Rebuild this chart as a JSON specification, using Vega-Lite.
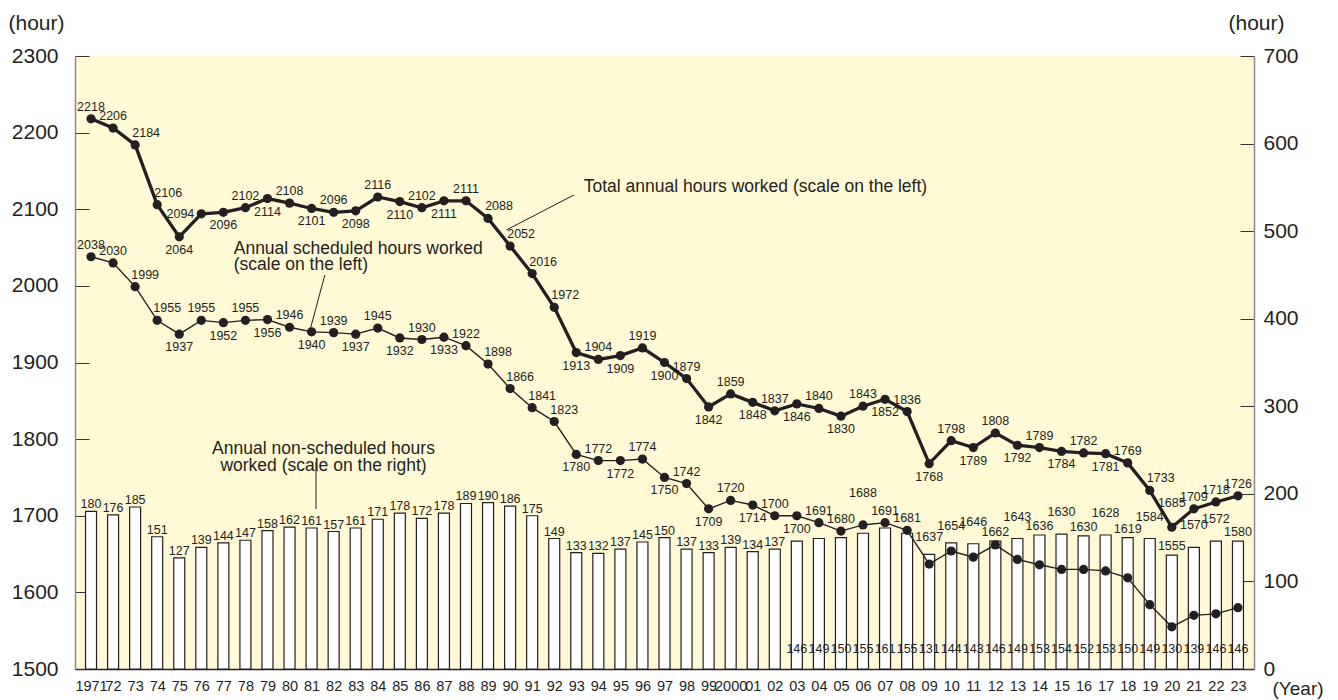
{
  "$schema": "https://vega.github.io/schema/vega-lite/v6.json",
  "width": 1179,
  "height": 613,
  "autosize": "none",
  "padding": {"left": 75, "top": 56, "right": 84, "bottom": 31},
  "background": "white",
  "config": {
    "view": {"fill": "#FFF9D6", "stroke": null},
    "font": "Liberation Sans",
    "text": {"font": "Liberation Sans", "fontSize": 12.5, "color": "#231F20"}
  },
  "datasets": {
    "main": [
      {"year": 1971, "total": 2218, "sched": 2038, "non": 180},
      {"year": 1972, "total": 2206, "sched": 2030, "non": 176},
      {"year": 1973, "total": 2184, "sched": 1999, "non": 185},
      {"year": 1974, "total": 2106, "sched": 1955, "non": 151},
      {"year": 1975, "total": 2064, "sched": 1937, "non": 127},
      {"year": 1976, "total": 2094, "sched": 1955, "non": 139},
      {"year": 1977, "total": 2096, "sched": 1952, "non": 144},
      {"year": 1978, "total": 2102, "sched": 1955, "non": 147},
      {"year": 1979, "total": 2114, "sched": 1956, "non": 158},
      {"year": 1980, "total": 2108, "sched": 1946, "non": 162},
      {"year": 1981, "total": 2101, "sched": 1940, "non": 161},
      {"year": 1982, "total": 2096, "sched": 1939, "non": 157},
      {"year": 1983, "total": 2098, "sched": 1937, "non": 161},
      {"year": 1984, "total": 2116, "sched": 1945, "non": 171},
      {"year": 1985, "total": 2110, "sched": 1932, "non": 178},
      {"year": 1986, "total": 2102, "sched": 1930, "non": 172},
      {"year": 1987, "total": 2111, "sched": 1933, "non": 178},
      {"year": 1988, "total": 2111, "sched": 1922, "non": 189},
      {"year": 1989, "total": 2088, "sched": 1898, "non": 190},
      {"year": 1990, "total": 2052, "sched": 1866, "non": 186},
      {"year": 1991, "total": 2016, "sched": 1841, "non": 175},
      {"year": 1992, "total": 1972, "sched": 1823, "non": 149},
      {"year": 1993, "total": 1913, "sched": 1780, "non": 133},
      {"year": 1994, "total": 1904, "sched": 1772, "non": 132},
      {"year": 1995, "total": 1909, "sched": 1772, "non": 137},
      {"year": 1996, "total": 1919, "sched": 1774, "non": 145},
      {"year": 1997, "total": 1900, "sched": 1750, "non": 150},
      {"year": 1998, "total": 1879, "sched": 1742, "non": 137},
      {"year": 1999, "total": 1842, "sched": 1709, "non": 133},
      {"year": 2000, "total": 1859, "sched": 1720, "non": 139},
      {"year": 2001, "total": 1848, "sched": 1714, "non": 134},
      {"year": 2002, "total": 1837, "sched": 1700, "non": 137},
      {"year": 2003, "total": 1846, "sched": 1700, "non": 146},
      {"year": 2004, "total": 1840, "sched": 1691, "non": 149},
      {"year": 2005, "total": 1830, "sched": 1680, "non": 150},
      {"year": 2006, "total": 1843, "sched": 1688, "non": 155},
      {"year": 2007, "total": 1852, "sched": 1691, "non": 161},
      {"year": 2008, "total": 1836, "sched": 1681, "non": 155},
      {"year": 2009, "total": 1768, "sched": 1637, "non": 131},
      {"year": 2010, "total": 1798, "sched": 1654, "non": 144},
      {"year": 2011, "total": 1789, "sched": 1646, "non": 143},
      {"year": 2012, "total": 1808, "sched": 1662, "non": 146},
      {"year": 2013, "total": 1792, "sched": 1643, "non": 149},
      {"year": 2014, "total": 1789, "sched": 1636, "non": 153},
      {"year": 2015, "total": 1784, "sched": 1630, "non": 154},
      {"year": 2016, "total": 1782, "sched": 1630, "non": 152},
      {"year": 2017, "total": 1781, "sched": 1628, "non": 153},
      {"year": 2018, "total": 1769, "sched": 1619, "non": 150},
      {"year": 2019, "total": 1733, "sched": 1584, "non": 149},
      {"year": 2020, "total": 1685, "sched": 1555, "non": 130},
      {"year": 2021, "total": 1709, "sched": 1570, "non": 139},
      {"year": 2022, "total": 1718, "sched": 1572, "non": 146},
      {"year": 2023, "total": 1726, "sched": 1580, "non": 146}
    ],
    "notes": [
      {"kind": "total", "year": 1993.34, "val": 2129, "text": "Total annual hours worked (scale on the left)"},
      {"kind": "sched", "year": 1977.47, "val": 2048, "text": "Annual scheduled hours worked"},
      {"kind": "sched", "year": 1977.47, "val": 2027, "text": "(scale on the left)"},
      {"kind": "nonsched", "year": 1981.54, "val": 1786.5, "text": "Annual non-scheduled hours"},
      {"kind": "nonsched", "year": 1981.54, "val": 1765, "text": "worked (scale on the right)"}
    ],
    "leaders": [
      {"year": 1992.89, "val": 2118.6, "year2": 1989.83, "val2": 2072.9},
      {"year": 1981.6, "val": 2014.2, "year2": 1980.93, "val2": 1942.4},
      {"year": 1981.2, "val": 1770, "year2": 1981.2, "val2": 1708.8}
    ]
  },
  "encoding": {
    "x": {
      "field": "year",
      "type": "quantitative",
      "scale": {"domain": [1970.5, 2023.5], "nice": false, "zero": false},
      "axis": {
        "values": [1971,1972,1973,1974,1975,1976,1977,1978,1979,1980,1981,1982,1983,1984,1985,1986,1987,1988,1989,1990,1991,1992,1993,1994,1995,1996,1997,1998,1999,2000,2001,2002,2003,2004,2005,2006,2007,2008,2009,2010,2011,2012,2013,2014,2015,2016,2017,2018,2019,2020,2021,2022,2023],
        "labelExpr": "datum.value == 1971 || datum.value == 2000 ? '' + datum.value : substring('' + datum.value, 2, 4)",
        "labelOverlap": false,
        "labelFlush": false,
        "labelFont": "Liberation Sans",
        "labelFontSize": 14.5,
        "labelColor": "#231F20",
        "labelPadding": 10,
        "ticks": false,
        "grid": false,
        "domainColor": "#231F20",
        "domainWidth": 1.5,
        "title": "(Year)",
        "titleFont": "Liberation Sans",
        "titleFontSize": 19,
        "titleFontWeight": "normal",
        "titleColor": "#231F20",
        "titleAlign": "left",
        "titleBaseline": "alphabetic",
        "titleX": 1197,
        "titleY": 25
      }
    }
  },
  "layer": [
    {
      "data": {"name": "main"},
      "mark": {"type": "bar", "width": 11, "fill": "white", "stroke": "#231F20", "strokeWidth": 1.2},
      "encoding": {
        "y": {
          "field": "non", "type": "quantitative",
          "scale": {"domain": [0, 700], "nice": false},
          "axis": {
            "orient": "right",
            "values": [0, 100, 200, 300, 400, 500, 600, 700],
            "format": "d",
            "grid": false,
            "tickSize": -14,
            "tickColor": "#333333",
            "domainColor": "#8a8a8a",
            "domainWidth": 1.5,
            "labelFontSize": 21,
            "labelColor": "#231F20",
            "labelPadding": 23,
            "title": "(hour)",
            "titleAngle": 0,
            "titleFontSize": 21,
            "titleFontWeight": "normal",
            "titleColor": "#231F20",
            "titleAlign": "left",
            "titleBaseline": "alphabetic",
            "titleX": -26,
            "titleY": -27
          }
        }
      }
    },
    {
      "data": {"name": "main"},
      "transform": [{"filter": "datum.year <= 2002"}],
      "mark": {"type": "text", "baseline": "alphabetic", "dy": -3},
      "encoding": {
        "y": {"field": "non", "type": "quantitative", "scale": {"domain": [0, 700], "nice": false}, "axis": null},
        "text": {"field": "non", "type": "quantitative", "format": "d"}
      }
    },
    {
      "data": {"name": "main"},
      "transform": [{"filter": "datum.year >= 2003"}],
      "mark": {"type": "text", "baseline": "alphabetic", "dy": -16},
      "encoding": {
        "y": {"datum": 0, "type": "quantitative", "scale": {"domain": [0, 700], "nice": false}, "axis": null},
        "text": {"field": "non", "type": "quantitative", "format": "d"}
      }
    },
    {
      "data": {"name": "main"},
      "mark": {"type": "line", "color": "#231F20", "strokeWidth": 3.3},
      "encoding": {
        "y": {
          "field": "total", "type": "quantitative",
          "scale": {"domain": [1500, 2300], "nice": false, "zero": false},
          "axis": {
            "orient": "left",
            "values": [1500, 1600, 1700, 1800, 1900, 2000, 2100, 2200, 2300],
            "format": "d",
            "grid": false,
            "tickSize": -14,
            "tickColor": "#333333",
            "domainColor": "#8a8a8a",
            "domainWidth": 1.5,
            "labelFontSize": 21,
            "labelColor": "#231F20",
            "labelPadding": 31,
            "title": "(hour)",
            "titleAngle": 0,
            "titleFontSize": 21,
            "titleFontWeight": "normal",
            "titleColor": "#231F20",
            "titleAlign": "left",
            "titleBaseline": "alphabetic",
            "titleX": -67,
            "titleY": -27
          }
        }
      }
    },
    {
      "data": {"name": "main"},
      "mark": {"type": "point", "filled": true, "size": 85, "color": "#231F20", "opacity": 1},
      "encoding": {
        "y": {"field": "total", "type": "quantitative", "scale": {"domain": [1500, 2300], "nice": false, "zero": false}, "axis": null}
      }
    },
    {
      "data": {"name": "main"},
      "mark": {"type": "line", "color": "#231F20", "strokeWidth": 1.4},
      "encoding": {
        "y": {"field": "sched", "type": "quantitative", "scale": {"domain": [1500, 2300], "nice": false, "zero": false}, "axis": null}
      }
    },
    {
      "data": {"name": "main"},
      "mark": {"type": "point", "filled": true, "size": 85, "color": "#231F20", "opacity": 1},
      "encoding": {
        "y": {"field": "sched", "type": "quantitative", "scale": {"domain": [1500, 2300], "nice": false, "zero": false}, "axis": null}
      }
    },
    {
      "data": {"name": "main"},
      "transform": [{"filter": {"field": "year", "oneOf": [1971,1972,1978,1980,1982,1984,1986,1988,1994,1996,1998,2000,2002,2004,2006,2008,2010,2012,2014,2016,2018,2021,2022,2023]}}],
      "mark": {"type": "text", "baseline": "alphabetic", "dy": -8},
      "encoding": {
        "y": {"field": "total", "type": "quantitative", "scale": {"domain": [1500, 2300], "nice": false, "zero": false}, "axis": null},
        "text": {"field": "total", "type": "quantitative", "format": "d"}
      }
    },
    {
      "data": {"name": "main"},
      "transform": [{"filter": {"field": "year", "oneOf": [2020]}}],
      "mark": {"type": "text", "baseline": "alphabetic", "dy": -20},
      "encoding": {
        "y": {"field": "total", "type": "quantitative", "scale": {"domain": [1500, 2300], "nice": false, "zero": false}, "axis": null},
        "text": {"field": "total", "type": "quantitative", "format": "d"}
      }
    },
    {
      "data": {"name": "main"},
      "transform": [{"filter": {"field": "year", "oneOf": [1973,1974,1989,1990,1991,1992,2019]}}],
      "mark": {"type": "text", "baseline": "alphabetic", "dy": -8, "dx": 11},
      "encoding": {
        "y": {"field": "total", "type": "quantitative", "scale": {"domain": [1500, 2300], "nice": false, "zero": false}, "axis": null},
        "text": {"field": "total", "type": "quantitative", "format": "d"}
      }
    },
    {
      "data": {"name": "main"},
      "transform": [{"filter": {"field": "year", "oneOf": [1976]}}],
      "mark": {"type": "text", "baseline": "middle", "align": "right", "dx": -7},
      "encoding": {
        "y": {"field": "total", "type": "quantitative", "scale": {"domain": [1500, 2300], "nice": false, "zero": false}, "axis": null},
        "text": {"field": "total", "type": "quantitative", "format": "d"}
      }
    },
    {
      "data": {"name": "main"},
      "transform": [{"filter": {"field": "year", "oneOf": [1975,1977,1979,1981,1983,1985,1987,1993,1995,1997,1999,2001,2003,2005,2007,2009,2011,2013,2015,2017]}}],
      "mark": {"type": "text", "baseline": "alphabetic", "dy": 17},
      "encoding": {
        "y": {"field": "total", "type": "quantitative", "scale": {"domain": [1500, 2300], "nice": false, "zero": false}, "axis": null},
        "text": {"field": "total", "type": "quantitative", "format": "d"}
      }
    },
    {
      "data": {"name": "main"},
      "transform": [{"filter": {"field": "year", "oneOf": [1971,1972,1976,1978,1980,1982,1984,1986,1988,1994,1996,1998,2000,2002,2004,2005,2007,2008]}}],
      "mark": {"type": "text", "baseline": "alphabetic", "dy": -8},
      "encoding": {
        "y": {"field": "sched", "type": "quantitative", "scale": {"domain": [1500, 2300], "nice": false, "zero": false}, "axis": null},
        "text": {"field": "sched", "type": "quantitative", "format": "d"}
      }
    },
    {
      "data": {"name": "main"},
      "transform": [{"filter": {"field": "year", "oneOf": [2006]}}],
      "mark": {"type": "text", "baseline": "alphabetic", "dy": -28},
      "encoding": {
        "y": {"field": "sched", "type": "quantitative", "scale": {"domain": [1500, 2300], "nice": false, "zero": false}, "axis": null},
        "text": {"field": "sched", "type": "quantitative", "format": "d"}
      }
    },
    {
      "data": {"name": "main"},
      "transform": [{"filter": {"field": "year", "oneOf": [1973,1974,1989,1990,1991,1992]}}],
      "mark": {"type": "text", "baseline": "alphabetic", "dy": -8, "dx": 10},
      "encoding": {
        "y": {"field": "sched", "type": "quantitative", "scale": {"domain": [1500, 2300], "nice": false, "zero": false}, "axis": null},
        "text": {"field": "sched", "type": "quantitative", "format": "d"}
      }
    },
    {
      "data": {"name": "main"},
      "transform": [{"filter": {"field": "year", "oneOf": [1975,1977,1979,1981,1983,1985,1987,1993,1995,1997,1999,2001,2003]}}],
      "mark": {"type": "text", "baseline": "alphabetic", "dy": 17},
      "encoding": {
        "y": {"field": "sched", "type": "quantitative", "scale": {"domain": [1500, 2300], "nice": false, "zero": false}, "axis": null},
        "text": {"field": "sched", "type": "quantitative", "format": "d"}
      }
    },
    {
      "data": {"name": "main"},
      "transform": [{"filter": {"field": "year", "oneOf": [2009,2010]}}],
      "mark": {"type": "text", "baseline": "middle", "dy": -17},
      "encoding": {
        "y": {"field": "non", "type": "quantitative", "scale": {"domain": [0, 700], "nice": false}, "axis": null},
        "text": {"field": "sched", "type": "quantitative", "format": "d"}
      }
    },
    {
      "data": {"name": "main"},
      "transform": [{"filter": {"field": "year", "oneOf": [2012,2014,2016,2018,2020,2023]}}],
      "mark": {"type": "text", "baseline": "middle", "dy": -9},
      "encoding": {
        "y": {"field": "non", "type": "quantitative", "scale": {"domain": [0, 700], "nice": false}, "axis": null},
        "text": {"field": "sched", "type": "quantitative", "format": "d"}
      }
    },
    {
      "data": {"name": "main"},
      "transform": [{"filter": {"field": "year", "oneOf": [2011,2013,2015,2017,2019,2021,2022]}}],
      "mark": {"type": "text", "baseline": "middle", "dy": -22},
      "encoding": {
        "y": {"field": "non", "type": "quantitative", "scale": {"domain": [0, 700], "nice": false}, "axis": null},
        "text": {"field": "sched", "type": "quantitative", "format": "d"}
      }
    },
    {
      "data": {"name": "leaders"},
      "mark": {"type": "rule", "color": "#231F20", "strokeWidth": 1},
      "encoding": {
        "x2": {"field": "year2"},
        "y": {"field": "val", "type": "quantitative", "scale": {"domain": [1500, 2300], "nice": false, "zero": false}, "axis": null},
        "y2": {"field": "val2"}
      }
    },
    {
      "data": {"name": "notes"},
      "transform": [{"filter": "datum.kind != 'nonsched'"}],
      "mark": {"type": "text", "font": "Liberation Sans", "fontSize": 17.5, "align": "left", "baseline": "middle", "color": "#231F20"},
      "encoding": {
        "y": {"field": "val", "type": "quantitative", "scale": {"domain": [1500, 2300], "nice": false, "zero": false}, "axis": null},
        "text": {"field": "text"}
      }
    },
    {
      "data": {"name": "notes"},
      "transform": [{"filter": "datum.kind == 'nonsched'"}],
      "mark": {"type": "text", "font": "Liberation Sans", "fontSize": 17.5, "align": "center", "baseline": "middle", "color": "#231F20"},
      "encoding": {
        "y": {"field": "val", "type": "quantitative", "scale": {"domain": [1500, 2300], "nice": false, "zero": false}, "axis": null},
        "text": {"field": "text"}
      }
    }
  ],
  "resolve": {"scale": {"y": "independent"}}
}
